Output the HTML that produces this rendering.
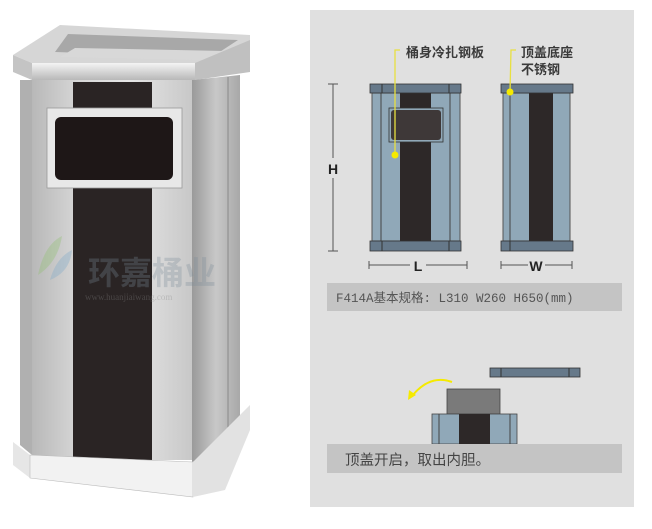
<!DOCTYPE html>
<html><head><meta charset="utf-8"><style>
html,body{margin:0;padding:0;background:#fff;width:652px;height:529px;overflow:hidden}
svg{display:block}
.cn{font-family:"Liberation Sans","Noto Sans CJK SC",sans-serif}
</style></head><body>
<svg width="652" height="529" viewBox="0 0 652 529" xmlns="http://www.w3.org/2000/svg">
<defs>
<linearGradient id="fr" x1="0" x2="1" y1="0" y2="0">
<stop offset="0" stop-color="#b8b8b8"/><stop offset="0.3" stop-color="#d8d8d8"/><stop offset="0.6" stop-color="#e6e6e6"/><stop offset="1" stop-color="#c8c8c8"/></linearGradient>
<linearGradient id="sd" x1="0" x2="1" y1="0" y2="0">
<stop offset="0" stop-color="#9a9a9a"/><stop offset="0.5" stop-color="#c8c8c8"/><stop offset="1" stop-color="#a8a8a8"/></linearGradient>
<linearGradient id="lid" x1="0" x2="0" y1="0" y2="1">
<stop offset="0" stop-color="#f4f4f4"/><stop offset="1" stop-color="#b8b8b8"/></linearGradient>
</defs>
<rect width="652" height="529" fill="#fff"/>
<!-- left bin -->
<polygon points="20,80 32,80 32,455 20,445" fill="#b0b0b0"/>
<rect x="32" y="80" width="160" height="380" fill="url(#fr)"/>
<polygon points="192,80 240,75 240,448 192,462" fill="url(#sd)"/>
<line x1="228" y1="77" x2="228" y2="452" stroke="#8a8a8a" stroke-width="1"/>
<rect x="73" y="82" width="79" height="380" fill="#2a2424"/>
<!-- lid -->
<polygon points="13,55 60,25 250,35 250,42 195,65 32,63" fill="#d6d6d6"/>
<polygon points="55,52 68,34 238,40 212,57" fill="#a8a8a8"/>
<polygon points="60,57 75,48 225,51 205,60" fill="#d8d8d8"/>
<polygon points="13,55 32,63 32,80 13,72" fill="#c4c4c4"/>
<rect x="32" y="63" width="163" height="17" fill="url(#lid)"/>
<polygon points="195,63 250,40 250,72 195,80" fill="#c0c0c0"/>
<!-- window -->
<rect x="47" y="108" width="135" height="80" fill="#e8e8e8" stroke="#999" stroke-width="0.8"/>
<rect x="55" y="117" width="118" height="63" rx="6" fill="#1e1717"/>
<!-- base -->
<polygon points="13,442 30,455 30,478 13,465" fill="#e6e6e6"/>
<polygon points="30,455 193,462 193,497 30,478" fill="#f2f2f2" stroke="#bbb" stroke-width="0.6"/>
<polygon points="193,462 250,405 250,430 225,490 193,497" fill="#e2e2e2"/>
<!-- watermark -->
<text x="88" y="284" class="cn" font-size="32" font-weight="bold" fill="#7a8a98" fill-opacity="0.3">环嘉桶业</text>
<text x="85" y="300" font-family="Liberation Serif,serif" font-size="9" fill="#888" fill-opacity="0.35">www.huanjiaiwang.com</text>
<path d="M38,275 Q44,245 62,236 Q58,262 38,275Z" fill="#8fbf6f" fill-opacity="0.35"/>
<path d="M50,280 Q56,258 72,250 Q70,272 50,280Z" fill="#7fa8c8" fill-opacity="0.35"/>

<!-- right panel -->
<rect x="310" y="10" width="324" height="497" fill="#e0e0e0"/>
<!-- front view -->
<rect x="372" y="93" width="88" height="148" fill="#90a8b8" stroke="#555" stroke-width="1"/>
<line x1="381" y1="93" x2="381" y2="241" stroke="#444" stroke-width="1"/>
<line x1="450" y1="93" x2="450" y2="241" stroke="#444" stroke-width="1"/>
<rect x="400" y="93" width="31" height="148" fill="#2d2828"/>
<rect x="389" y="108" width="54" height="34" fill="#90a8b8" stroke="#333" stroke-width="0.8"/>
<rect x="391" y="110" width="50" height="30" rx="3" fill="#3e3838"/>
<rect x="370" y="84" width="91" height="9" fill="#66798a" stroke="#333" stroke-width="0.8"/>
<line x1="382" y1="84" x2="382" y2="93" stroke="#333"/><line x1="449" y1="84" x2="449" y2="93" stroke="#333"/>
<rect x="370" y="241" width="91" height="10" fill="#66798a" stroke="#333" stroke-width="0.8"/>
<line x1="382" y1="241" x2="382" y2="251" stroke="#333"/><line x1="449" y1="241" x2="449" y2="251" stroke="#333"/>
<!-- side view -->
<rect x="503" y="93" width="67" height="148" fill="#90a8b8" stroke="#555" stroke-width="1"/>
<line x1="510" y1="93" x2="510" y2="241" stroke="#444" stroke-width="1"/>
<rect x="529" y="93" width="24" height="148" fill="#2d2828"/>
<rect x="501" y="84" width="72" height="9" fill="#66798a" stroke="#333" stroke-width="0.8"/>
<rect x="501" y="241" width="72" height="10" fill="#66798a" stroke="#333" stroke-width="0.8"/>
<line x1="510" y1="241" x2="510" y2="251" stroke="#333"/>
<!-- leaders -->
<polyline points="395,155 395,50 400,50" fill="none" stroke="#e8e040" stroke-width="1.3"/>
<circle cx="395" cy="155" r="3.5" fill="#f5ea00"/>
<polyline points="510,92 511,50 516,50" fill="none" stroke="#e8e040" stroke-width="1.3"/>
<circle cx="510" cy="92" r="3.5" fill="#f5ea00"/>
<text x="406" y="57" class="cn" font-size="13" font-weight="bold" fill="#3a3a3a">桶身冷扎钢板</text>
<text x="521" y="57" class="cn" font-size="13" font-weight="bold" fill="#3a3a3a">顶盖底座</text>
<text x="521" y="74" class="cn" font-size="13" font-weight="bold" fill="#3a3a3a">不锈钢</text>
<!-- dims -->
<g stroke="#555" stroke-width="1">
<line x1="328" y1="84" x2="338" y2="84"/><line x1="333" y1="84" x2="333" y2="158"/>
<line x1="333" y1="178" x2="333" y2="251"/><line x1="328" y1="251" x2="338" y2="251"/>
<line x1="369" y1="261" x2="369" y2="269"/><line x1="369" y1="265" x2="410" y2="265"/>
<line x1="426" y1="265" x2="467" y2="265"/><line x1="467" y1="261" x2="467" y2="269"/>
<line x1="501" y1="261" x2="501" y2="269"/><line x1="501" y1="265" x2="528" y2="265"/>
<line x1="545" y1="265" x2="572" y2="265"/><line x1="572" y1="261" x2="572" y2="269"/>
</g>
<text x="333" y="174" text-anchor="middle" font-family="Liberation Sans,sans-serif" font-weight="bold" font-size="14" fill="#222">H</text>
<text x="418" y="271" text-anchor="middle" font-family="Liberation Sans,sans-serif" font-weight="bold" font-size="14" fill="#222">L</text>
<text x="536" y="271" text-anchor="middle" font-family="Liberation Sans,sans-serif" font-weight="bold" font-size="14" fill="#222">W</text>
<rect x="327" y="283" width="295" height="28" fill="#c4c4c4"/>
<text x="336" y="302" font-family="Liberation Mono,'Noto Sans CJK SC',monospace" font-size="12.5" fill="#555">F414A基本规格: L310 W260 H650(mm)</text>
<!-- bottom illustration -->
<rect x="490" y="368" width="90" height="9" fill="#66798a" stroke="#333" stroke-width="0.8"/>
<line x1="501" y1="368" x2="501" y2="377" stroke="#333"/><line x1="569" y1="368" x2="569" y2="377" stroke="#333"/>
<path d="M452,382 Q430,374 412,396" fill="none" stroke="#f5ea00" stroke-width="2"/>
<polygon points="408,400 409,390 416,395" fill="#f5ea00"/>
<rect x="447" y="389" width="53" height="25" fill="#7a7a7a" stroke="#444" stroke-width="0.8"/>
<rect x="432" y="414" width="85" height="30" fill="#90a8b8" stroke="#444" stroke-width="0.8"/>
<line x1="439" y1="414" x2="439" y2="444" stroke="#444"/><line x1="510" y1="414" x2="510" y2="444" stroke="#444"/>
<rect x="459" y="414" width="31" height="30" fill="#2d2828"/>
<rect x="327" y="444" width="295" height="29" fill="#c4c4c4"/>
<text x="345" y="465" class="cn" font-size="14.5" fill="#444">顶盖开启，取出内胆。</text>
</svg>
</body></html>
